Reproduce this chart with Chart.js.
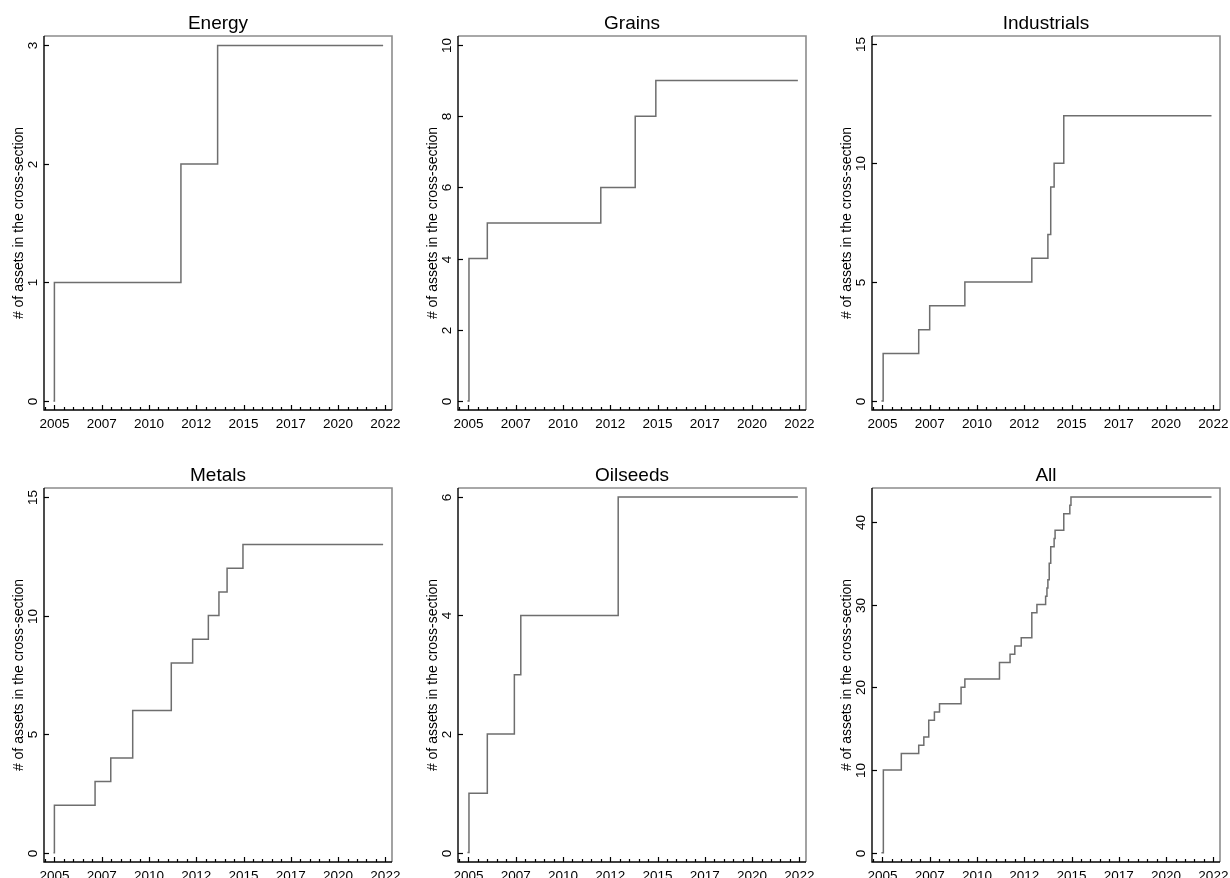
<!DOCTYPE html>
<html>
<head>
<meta charset="utf-8">
<script src="https://cdn.jsdelivr.net/npm/chart.js@4.4.1/dist/chart.umd.min.js"></script>
<style>
  html, body { margin: 0; padding: 0; background: #fff; width: 1230px; height: 878px; overflow: hidden; }
  .panel { position: absolute; width: 410px; height: 432px; }
</style>
</head>
<body>
<div class="panel" style="left:0px;top:0px"><canvas id="c0"></canvas></div>
<div class="panel" style="left:414px;top:0px"><canvas id="c1"></canvas></div>
<div class="panel" style="left:827px;top:0px"><canvas id="c2"></canvas></div>
<div class="panel" style="left:0px;top:452px"><canvas id="c3"></canvas></div>
<div class="panel" style="left:414px;top:452px"><canvas id="c4"></canvas></div>
<div class="panel" style="left:827px;top:452px"><canvas id="c5"></canvas></div>
<script>
// ---- Data (decimal year of each change, count from that date) ----
const panelTitles = ["Energy", "Grains", "Industrials", "Metals", "Oilseeds", "All"];
const yAxisTitle = "# of assets in the cross-section";

const energyDates = [2004.95, 2005.0, 2011.69, 2013.63, 2022.38];
const energyCounts = [0, 1, 2, 3, 3];

const grainsDates = [2004.95, 2005.03, 2006.0, 2012.0, 2013.82, 2014.91, 2022.42];
const grainsCounts = [0, 4, 5, 6, 8, 9, 9];

const industrialsDates = [2004.95, 2005.04, 2006.92, 2007.5, 2009.36, 2012.9, 2013.75, 2013.9, 2014.08, 2014.59, 2022.4];
const industrialsCounts = [0, 2, 3, 4, 5, 6, 7, 9, 10, 12, 12];

const metalsDates = [2004.95, 2005.0, 2007.15, 2007.98, 2009.14, 2011.18, 2012.31, 2013.14, 2013.7, 2014.13, 2014.97, 2022.38];
const metalsCounts = [0, 2, 3, 4, 6, 8, 9, 10, 11, 12, 13, 13];

const oilseedsDates = [2004.95, 2005.03, 2006.0, 2007.43, 2007.77, 2012.92, 2022.42];
const oilseedsCounts = [0, 1, 2, 3, 4, 6, 6];

const allDates = [2004.95, 2005.05, 2006.0, 2006.92, 2007.19, 2007.45, 2007.75, 2008.02, 2009.16, 2009.36, 2011.19, 2011.75, 2012.0, 2012.34, 2012.9, 2013.17, 2013.63, 2013.7, 2013.75, 2013.82, 2013.9, 2014.08, 2014.13, 2014.59, 2014.91, 2014.97, 2022.4];
const allCounts = [0, 10, 12, 13, 14, 16, 17, 18, 20, 21, 23, 24, 25, 26, 29, 30, 31, 32, 33, 35, 37, 38, 39, 41, 42, 43, 43];

// ---- Tick labels ----
const xTickValues = [2005, 2007.5, 2010, 2012.5, 2015, 2017.5, 2020, 2022.5];
const xTickLabels = ["2005", "2007", "2010", "2012", "2015", "2017", "2020", "2022"];
const energyYTicks = [0, 1, 2, 3];
const grainsYTicks = [0, 2, 4, 6, 8, 10];
const industrialsYTicks = [0, 5, 10, 15];
const metalsYTicks = [0, 5, 10, 15];
const oilseedsYTicks = [0, 2, 4, 6];
const allYTicks = [0, 10, 20, 30, 40];

const energyYRange = [-0.076, 3.08];
const grainsYRange = [-0.25, 10.25];
const industrialsYRange = [-0.38, 15.35];
const metalsYRange = [-0.39, 15.38];
const oilseedsYRange = [-0.16, 6.15];
const allYRange = [-1.13, 44.1];
const xRange = [2004.45, 2022.85];

const panels = [
  { dates: energyDates, counts: energyCounts, yTicks: energyYTicks, yRange: energyYRange, padLeft: 44 },
  { dates: grainsDates, counts: grainsCounts, yTicks: grainsYTicks, yRange: grainsYRange, padLeft: 44 },
  { dates: industrialsDates, counts: industrialsCounts, yTicks: industrialsYTicks, yRange: industrialsYRange, padLeft: 45 },
  { dates: metalsDates, counts: metalsCounts, yTicks: metalsYTicks, yRange: metalsYRange, padLeft: 44 },
  { dates: oilseedsDates, counts: oilseedsCounts, yTicks: oilseedsYTicks, yRange: oilseedsYRange, padLeft: 44 },
  { dates: allDates, counts: allCounts, yTicks: allYTicks, yRange: allYRange, padLeft: 45 },
];

const FONT = "'Liberation Sans', Arial, Helvetica, sans-serif";

const decorPlugin = {
  id: 'decor',
  afterDraw(chart) {
    const { ctx, chartArea: a, scales: { x, y } } = chart;
    const title = chart.options.plugins.decor.title;
    ctx.save();
    // top & right frame (gray)
    ctx.strokeStyle = '#8c8c8c';
    ctx.lineWidth = 1.6;
    ctx.beginPath();
    ctx.moveTo(a.left, a.top);
    ctx.lineTo(a.right, a.top);
    ctx.lineTo(a.right, a.bottom);
    ctx.stroke();
    // left & bottom axes (black)
    ctx.strokeStyle = '#000';
    ctx.lineWidth = 1.4;
    ctx.beginPath();
    ctx.moveTo(a.left, a.top);
    ctx.lineTo(a.left, a.bottom);
    ctx.lineTo(a.right, a.bottom);
    ctx.stroke();
    // y ticks (inward) + rotated labels
    ctx.lineWidth = 1.2;
    ctx.fillStyle = '#000';
    ctx.font = `13.5px ${FONT}`;
    y.ticks.forEach(t => {
      const py = Math.round(y.getPixelForValue(t.value)) + 0.5;
      ctx.beginPath();
      ctx.moveTo(a.left, py);
      ctx.lineTo(a.left + 5, py);
      ctx.stroke();
      ctx.save();
      ctx.translate(a.left - 7, py);
      ctx.rotate(-Math.PI / 2);
      ctx.textAlign = 'center';
      ctx.textBaseline = 'alphabetic';
      ctx.fillText(String(t.value), 0, 0);
      ctx.restore();
    });
    // x major ticks (inward)
    x.ticks.forEach(t => {
      const px = Math.round(x.getPixelForValue(t.value)) + 0.5;
      ctx.beginPath();
      ctx.moveTo(px, a.bottom);
      ctx.lineTo(px, a.bottom - 5);
      ctx.stroke();
    });
    // x minor ticks every half year
    for (let v = Math.ceil(x.min * 2) / 2; v <= x.max; v += 0.5) {
      if (xTickValues.includes(v)) continue;
      const px = Math.round(x.getPixelForValue(v)) + 0.5;
      ctx.beginPath();
      ctx.moveTo(px, a.bottom);
      ctx.lineTo(px, a.bottom - 3);
      ctx.stroke();
    }
    // panel title
    ctx.font = `19px ${FONT}`;
    ctx.textAlign = 'center';
    ctx.textBaseline = 'alphabetic';
    ctx.fillText(title, (a.left + a.right) / 2, a.top - 7);
    // y axis title
    ctx.save();
    ctx.font = `14px ${FONT}`;
    ctx.translate(a.left - 25, (a.top + a.bottom) / 2);
    ctx.rotate(-Math.PI / 2);
    ctx.textAlign = 'center';
    ctx.textBaseline = 'middle';
    ctx.fillText(yAxisTitle, 0, 0);
    ctx.restore();
    ctx.restore();
  }
};

panels.forEach((p, i) => {
  const points = p.dates.map((d, k) => ({ x: d, y: p.counts[k] }));
  new Chart(document.getElementById('c' + i), {
    type: 'line',
    data: {
      datasets: [{
        data: points,
        stepped: 'before',
        borderColor: '#6e6e6e',
        borderWidth: 1.5,
        pointRadius: 0,
        fill: false,
      }]
    },
    options: {
      responsive: true,
      maintainAspectRatio: false,
      animation: false,
      events: [],
      layout: { padding: { left: p.padLeft, top: 36, right: 410 - p.padLeft - 348, bottom: 0 } },
      plugins: {
        legend: { display: false },
        tooltip: { enabled: false },
        title: { display: false },
        decor: { title: panelTitles[i] },
      },
      scales: {
        x: {
          type: 'linear',
          min: xRange[0],
          max: xRange[1],
          afterBuildTicks: (s) => { s.ticks = xTickValues.map(v => ({ value: v })); },
          afterFit: (s) => { s.height = 22; },
          border: { display: false },
          grid: { display: false, drawTicks: false },
          ticks: {
            autoSkip: false,
            maxRotation: 0,
            minRotation: 0,
            padding: 6,
            color: '#000',
            font: { family: FONT, size: 13.5 },
            callback: (v, idx) => xTickLabels[idx],
          }
        },
        y: {
          type: 'linear',
          min: p.yRange[0],
          max: p.yRange[1],
          afterBuildTicks: (s) => { s.ticks = p.yTicks.map(v => ({ value: v })); },
          afterFit: (s) => { s.width = 0; },
          border: { display: false },
          grid: { display: false, drawTicks: false },
          ticks: { display: false },
        }
      }
    },
    plugins: [decorPlugin]
  });
});
</script>
</body>
</html>
